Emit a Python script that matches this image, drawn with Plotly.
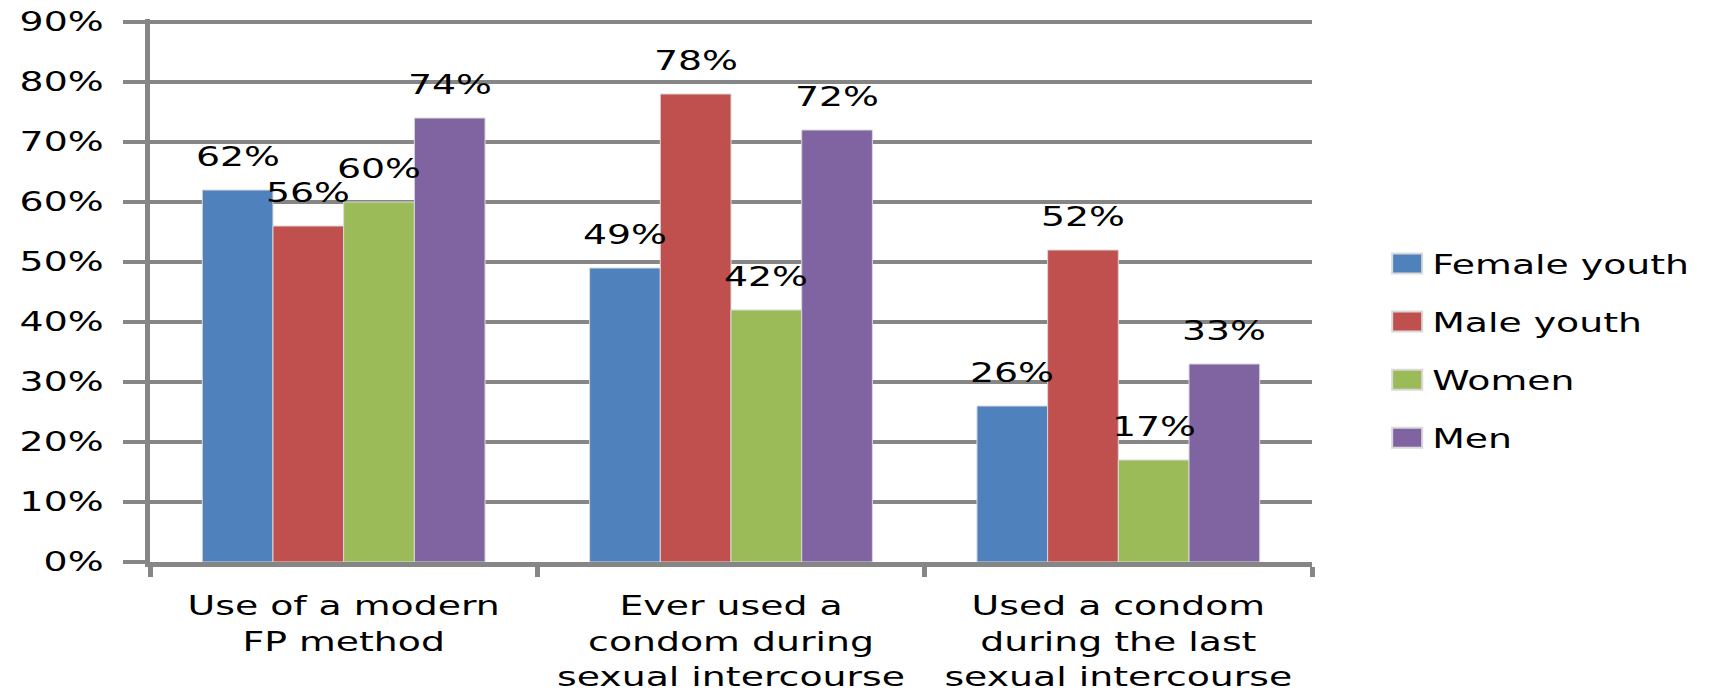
import plotly.graph_objects as go

categories = [
    "Use of a modern<br>FP method",
    "Ever used a<br>condom during<br>sexual intercourse",
    "Used a condom<br>during the last<br>sexual intercourse",
]
series_names = ["Female youth", "Male youth", "Women", "Men"]
female_youth = [62, 49, 26]
male_youth = [56, 78, 52]
women = [60, 42, 17]
men = [74, 72, 33]
y_ticks = [0, 10, 20, 30, 40, 50, 60, 70, 80, 90]

series_values = [female_youth, male_youth, women, men]
colors = ["#4F81BD", "#C0504D", "#9BBB59", "#8064A2"]

FONT = "DejaVu Sans"
FONT_SIZE = 27
GRID = "#868686"

WIDTH, HEIGHT = 1714, 692
MARGIN = dict(l=150, r=402, t=19, b=130)
BARGAP = 0.27

fig = go.Figure()
for name, vals, col in zip(series_names, series_values, colors):
    fig.add_trace(go.Bar(
        x=categories,
        y=vals,
        name=name,
        legendgroup=name,
        marker=dict(color=col, line=dict(color="#d9d9d9", width=1)),
    ))

# value labels above each bar, shifted sideways to sit over their bar in the group
plot_w = WIDTH - MARGIN["l"] - MARGIN["r"]
bar_w = plot_w / len(categories) * (1 - BARGAP) / len(series_names)
for i, vals in enumerate(series_values):
    dx = (i - (len(series_names) - 1) / 2) * bar_w
    for cat, v in zip(categories, vals):
        fig.add_annotation(
            x=cat, y=v, text=f"{v}%", showarrow=False,
            xanchor="center", yanchor="bottom",
            xshift=dx, yshift=16,
            font=dict(family=FONT, size=FONT_SIZE, color="black"),
        )

fig.update_layout(
    width=WIDTH,
    height=HEIGHT,
    margin=MARGIN,
    paper_bgcolor="white",
    plot_bgcolor="white",
    barmode="group",
    bargap=BARGAP,
    bargroupgap=0,
    font=dict(family=FONT, size=FONT_SIZE, color="black"),
    showlegend=True,
    legend=dict(
        x=1.069, y=0.594, xanchor="left", yanchor="top",
        font=dict(family=FONT, size=FONT_SIZE, color="black"),
        traceorder="grouped",
        tracegroupgap=20,
        itemsizing="constant",
        bgcolor="rgba(0,0,0,0)",
    ),
)

fig.update_yaxes(
    range=[0, 90.5],
    tickvals=y_ticks,
    ticktext=[f"{t}%" for t in y_ticks],
    automargin=False,
    showgrid=True,
    gridcolor=GRID,
    gridwidth=4,
    showline=True,
    linecolor=GRID,
    linewidth=5,
    ticks="outside",
    ticklen=22,
    tickwidth=4,
    tickcolor=GRID,
    ticklabelstandoff=14,
    tickfont=dict(family=FONT, size=FONT_SIZE, color="black"),
    zeroline=False,
)

fig.update_xaxes(
    automargin=False,
    showline=True,
    linecolor=GRID,
    linewidth=5,
    ticks="outside",
    tickson="boundaries",
    ticklen=10,
    tickwidth=5,
    tickcolor=GRID,
    ticklabelstandoff=16,
    tickfont=dict(family=FONT, size=FONT_SIZE, color="black"),
    showgrid=False,
)

# widen the lettering horizontally and enlarge the legend swatches
POST = """
var gd = document.getElementById('{plot_id}');
function widen() {
  gd.querySelectorAll('text').forEach(function (t) {
    var lines = t.querySelectorAll('tspan.line');
    var els = lines.length ? Array.prototype.slice.call(lines) : [t];
    els.forEach(function (el) {
      el.removeAttribute('textLength');
      var w = el.getComputedTextLength();
      if (w > 0) {
        el.setAttribute('textLength', (w * 1.4).toFixed(1));
        el.setAttribute('lengthAdjust', 'spacingAndGlyphs');
      }
    });
  });
  gd.querySelectorAll('.legend .legendpoints path').forEach(function (p) {
    var d = p.getAttribute('d') || '';
    if (d.indexOf('M6,6H-6V-6H6Z') === 0) {
      p.setAttribute('d', 'M10,10H-20V-10H10Z');
    }
  });
  gd.querySelectorAll('.legend [clip-path]').forEach(function (el) {
    el.removeAttribute('clip-path');
  });
  var leg = gd.querySelector('.legend');
  if (leg) { leg.removeAttribute('clip-path'); }
}
widen();
"""

fig.write_html("out.html", post_script=POST)
